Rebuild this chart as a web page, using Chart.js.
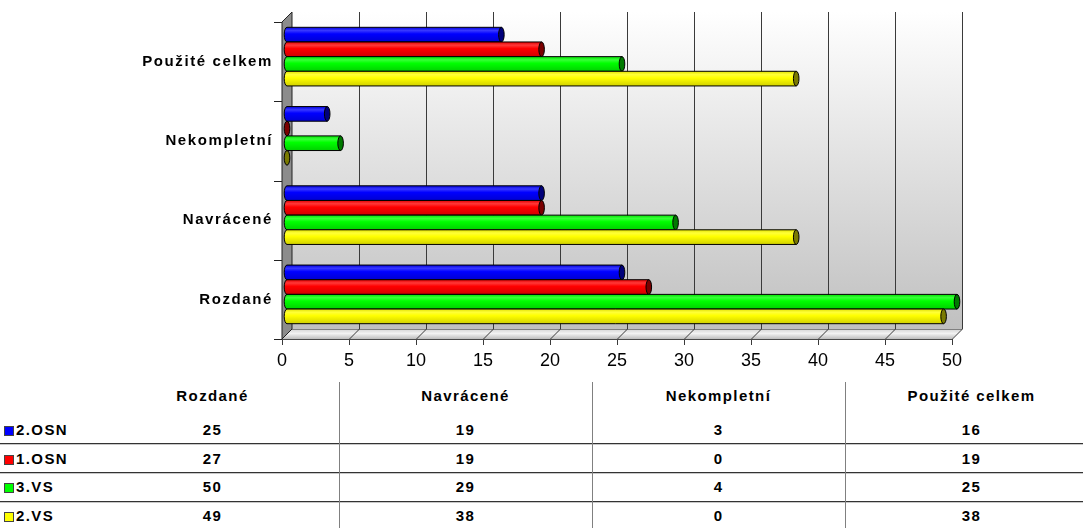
<!DOCTYPE html>
<html>
<head>
<meta charset="utf-8">
<title>Dotazníky</title>
<script src="https://cdn.jsdelivr.net/npm/chart.js@4"></script>
<style>
  html, body { margin: 0; padding: 0; background: #fff; width: 1083px; height: 528px; overflow: hidden; }
  #wrap { position: absolute; left: 0; top: 0; width: 1083px; height: 372px; }
  #tbl { position: absolute; left: 0; top: 372px; width: 1083px; height: 156px;
         font: bold 15px "Liberation Sans", Arial, sans-serif; letter-spacing: 1.4px; color: #000; }
  .cell { position: absolute; white-space: nowrap; line-height: 18px; height: 18px; }
  .hline { position: absolute; left: 0; width: 1083px; height: 1px; background: #333; border-bottom: 1px solid #c8c8c8; }
  .vline { position: absolute; width: 1px; background: #808080; top: 10px; bottom: 0; }
  .key { position: absolute; width: 8px; height: 8px; border: 1px solid #444; }
</style>
</head>
<body>
<div id="wrap"><canvas id="c" width="1083" height="372"></canvas></div>
<div id="tbl"></div>
<script>
// Categories and series as listed in the data table
const categories = ['Rozdané', 'Navrácené', 'Nekompletní', 'Použité celkem'];
const seriesNames = ['2.OSN', '1.OSN', '3.VS', '2.VS'];
const osn2 = [25, 19, 3, 16];
const osn1 = [27, 19, 0, 19];
const vs3  = [50, 29, 4, 25];
const vs2  = [49, 38, 0, 38];
const xTickValues = [0, 5, 10, 15, 20, 25, 30, 35, 40, 45, 50];

const seriesValues = [osn2, osn1, vs3, vs2];
const seriesColors = ['#0000ff', '#ff0000', '#00ff00', '#ffff00'];
const capColors    = ['#00007a', '#7a0000', '#007a00', '#7a7a00'];

// The chart lists categories from top to bottom in reverse table order
const chartLabels = categories.slice().reverse();

const DEPTH = 10, HALF = DEPTH / 2;

function rgb(hex) {
  return [1, 3, 5].map(i => parseInt(hex.substr(i, 2), 16));
}
function mix(hex, target, t) {
  const c = rgb(hex);
  return 'rgb(' + c.map(v => Math.round(v + (target - v) * t)).join(',') + ')';
}

function cylinder(ctx, x0, x1, cy, h, col, cap) {
  const ry = h / 2, rx = Math.max(2.5, h * 0.19);
  const top = cy - ry, bot = cy + ry;
  ctx.save();
  ctx.lineWidth = 1;
  ctx.strokeStyle = '#000';
  if (x1 - x0 > 0.5) {
    const g = ctx.createLinearGradient(0, top, 0, bot);
    g.addColorStop(0, mix(col, 0, 0.12));
    g.addColorStop(0.22, mix(col, 255, 0.22));
    g.addColorStop(0.45, col);
    g.addColorStop(1, mix(col, 0, 0.18));
    ctx.beginPath();
    ctx.moveTo(x1, top);
    ctx.lineTo(x0, top);
    ctx.ellipse(x0, cy, rx, ry, 0, -Math.PI / 2, Math.PI / 2, true);
    ctx.lineTo(x1, bot);
    ctx.closePath();
    ctx.fillStyle = g;
    ctx.fill();
    ctx.stroke();
  }
  ctx.beginPath();
  ctx.ellipse(x1, cy, rx, ry, 0, 0, Math.PI * 2);
  ctx.fillStyle = cap;
  ctx.fill();
  ctx.stroke();
  ctx.restore();
}

// Draws the 3D walls, floor, grid and axis lines around the chart area
const box3d = {
  id: 'box3d',
  beforeDatasetsDraw(chart) {
    const { ctx, chartArea: a, scales: { x } } = chart;
    const bl = a.left + HALF, bt = a.top - HALF, br = a.right + HALF, bb = a.bottom - HALF;
    const fl = a.left - HALF, ft = a.top + HALF, fr = a.right - HALF, fb = a.bottom + HALF;
    ctx.save();
    // back wall
    const gw = ctx.createLinearGradient(0, bt, 0, bb);
    gw.addColorStop(0, '#ffffff');
    gw.addColorStop(1, '#c0c0c0');
    ctx.fillStyle = gw;
    ctx.fillRect(bl, bt, br - bl, bb - bt);
    // floor
    const gf = ctx.createLinearGradient(0, bb, 0, fb);
    gf.addColorStop(0, '#d4d4d4');
    gf.addColorStop(0.45, '#f2f2f2');
    gf.addColorStop(1, '#bdbdbd');
    ctx.beginPath();
    ctx.moveTo(fl, fb); ctx.lineTo(bl, bb); ctx.lineTo(br, bb); ctx.lineTo(fr, fb); ctx.closePath();
    ctx.fillStyle = gf;
    ctx.fill();
    ctx.strokeStyle = '#808080';
    ctx.lineWidth = 1;
    ctx.beginPath(); ctx.moveTo(bl, bb + 0.5); ctx.lineTo(br, bb + 0.5); ctx.stroke();
    // grid lines on wall and floor, with tick marks
    ctx.strokeStyle = '#3a3a3a';
    xTickValues.forEach(v => {
      const px = Math.round(x.getPixelForValue(v)) + 0.5;
      ctx.beginPath();
      if (v > 0) {
        ctx.moveTo(px + HALF, bt);
        ctx.lineTo(px + HALF, bb);
        ctx.lineTo(px - HALF, fb);
      } else {
        ctx.moveTo(px - HALF, fb);
      }
      ctx.lineTo(px - HALF, fb + 6);
      ctx.stroke();
    });
    // front axis line
    ctx.strokeStyle = '#4a4a4a';
    ctx.beginPath(); ctx.moveTo(fl - 8, fb + 0.5); ctx.lineTo(fr, fb + 0.5); ctx.stroke();
    // left wall
    ctx.beginPath();
    ctx.moveTo(fl, ft); ctx.lineTo(bl, bt); ctx.lineTo(bl, bb); ctx.lineTo(fl, fb); ctx.closePath();
    ctx.fillStyle = '#8c8c8c';
    ctx.fill();
    ctx.strokeStyle = '#222';
    ctx.stroke();
    // category ticks on the front edge
    const n = chartLabels.length;
    for (let i = 0; i <= n; i++) {
      const yy = Math.round(a.top + i * (a.height / n) + HALF) + 0.5;
      ctx.beginPath(); ctx.moveTo(fl - 8, yy); ctx.lineTo(fl, yy); ctx.stroke();
    }
    ctx.restore();
  },
  afterDatasetsDraw(chart) {
    const { ctx } = chart;
    chart.data.datasets.forEach((ds, i) => {
      const meta = chart.getDatasetMeta(i);
      meta.data.forEach(el => {
        const p = el.getProps(['x', 'y', 'base', 'height'], true);
        cylinder(ctx, p.base, p.x, p.y, p.height, seriesColors[i], capColors[i]);
      });
    });
  },
  afterDraw(chart) {
    const { ctx, scales: { y } } = chart;
    ctx.save();
    ctx.font = 'bold 15px "Liberation Sans", Arial, sans-serif';
    ctx.fillStyle = '#000';
    ctx.textAlign = 'right';
    ctx.textBaseline = 'middle';
    ctx.letterSpacing = '1.6px';
    chartLabels.forEach((lab, i) => {
      ctx.fillText(lab, 273, y.getPixelForValue(i) + HALF);
    });
    ctx.restore();
  }
};

new Chart(document.getElementById('c'), {
  type: 'bar',
  data: {
    labels: chartLabels,
    datasets: seriesNames.map((name, i) => ({
      label: name,
      data: seriesValues[i].slice().reverse(),
      backgroundColor: 'rgba(0,0,0,0)',
      borderWidth: 0,
      categoryPercentage: 0.74,
      barPercentage: 1.0
    }))
  },
  options: {
    indexAxis: 'y',
    responsive: false,
    animation: false,
    events: [],
    layout: { padding: { left: 0, top: 17, right: 126, bottom: 0 } },
    plugins: { legend: { display: false }, tooltip: { enabled: false }, title: { display: false } },
    scales: {
      x: {
        min: 0, max: 50,
        afterBuildTicks(scale) { scale.ticks = xTickValues.map(v => ({ value: v })); },
        afterFit(scale) { scale.height = 38; },
        grid: { display: false, drawTicks: false },
        border: { display: false },
        ticks: {
          labelOffset: -HALF,
          padding: 16,
          color: '#000',
          maxRotation: 0,
          autoSkip: false,
          font: { family: '"Liberation Sans Narrow", "Arial Narrow", "Liberation Sans", Arial, sans-serif', size: 18 }
        }
      },
      y: {
        afterFit(scale) { scale.width = 287; },
        grid: { display: false, drawTicks: false },
        border: { display: false },
        ticks: { display: false }
      }
    }
  },
  plugins: [box3d]
});

// Data table under the chart
const tbl = document.getElementById('tbl');
const colLeft = [86, 339, 592, 845], colW = 253;
const rowCenter = [24, 58, 86.5, 115, 143.5];
const lineTops = [71, 100, 129];
const divX = [339, 592, 845];

function cell(text, left, width, cy, align) {
  const d = document.createElement('div');
  d.className = 'cell';
  d.style.left = left + 'px';
  d.style.width = width + 'px';
  d.style.top = (cy - 9) + 'px';
  d.style.textAlign = align;
  d.textContent = text;
  tbl.appendChild(d);
  return d;
}
lineTops.forEach(t => {
  const l = document.createElement('div');
  l.className = 'hline'; l.style.top = t + 'px'; tbl.appendChild(l);
});
divX.forEach(xp => {
  const l = document.createElement('div');
  l.className = 'vline'; l.style.left = xp + 'px'; tbl.appendChild(l);
});
categories.forEach((c, j) => cell(c, colLeft[j], colW, rowCenter[0], 'center'));
seriesNames.forEach((s, i) => {
  const k = document.createElement('div');
  k.className = 'key';
  k.style.background = seriesColors[i];
  k.style.left = '4px';
  k.style.top = Math.round(rowCenter[i + 1] - 4) + 'px';
  tbl.appendChild(k);
  cell(s, 16, 80, rowCenter[i + 1], 'left');
  seriesValues[i].forEach((v, j) => cell(String(v), colLeft[j], colW, rowCenter[i + 1], 'center'));
});
</script>
</body>
</html>
